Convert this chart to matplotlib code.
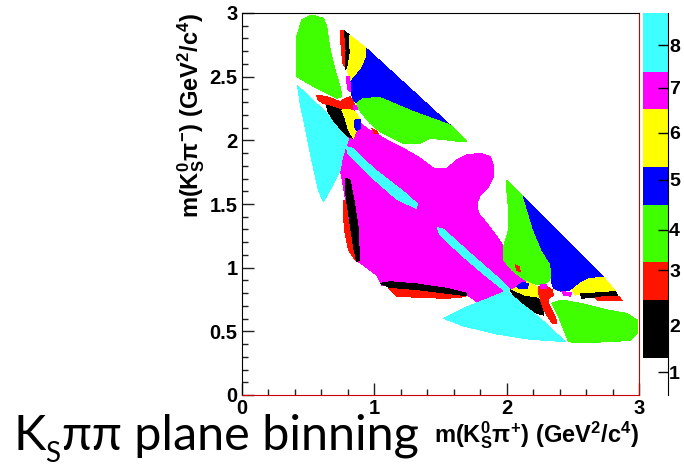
import matplotlib
matplotlib.use("Agg")
import matplotlib.pyplot as plt
from matplotlib.patches import Polygon
from matplotlib.ticker import MultipleLocator, FuncFormatter

# ---------- data: Dalitz-plane bins (bin number, outline in GeV^2/c^4) ----------

BIN_COLORS = {1: "#ffffff", 2: "#000000", 3: "#ff1400", 4: "#40ff00",
              5: "#0000ff", 6: "#ffff00", 7: "#ff00ff", 8: "#40ffff"}

magenta_main = [(0.781, 1.950), (0.819, 2.055), (0.856, 2.147), (0.894, 2.134),
                (0.945, 2.094), (1.096, 2.003), (1.222, 1.937), (1.348, 1.859),
                (1.448, 1.780), (1.549, 1.780), (1.625, 1.846), (1.700, 1.885),
                (1.801, 1.898), (1.877, 1.872), (1.902, 1.793), (1.902, 1.715),
                (1.864, 1.636), (1.801, 1.571), (1.776, 1.505), (1.788, 1.427),
                (1.851, 1.348), (1.927, 1.243), (2.003, 1.126), (2.078, 1.034),
                (2.154, 0.942), (2.166, 0.903), (2.078, 0.856), (2.003, 0.819),
                (1.952, 0.777), (1.776, 0.733), (1.705, 0.785), (1.423, 0.819),
                (1.058, 0.864), (1.020, 0.942), (0.882, 1.047), (0.844, 1.165),
                (0.806, 1.401), (0.768, 1.636), (0.748, 1.754)]
cyan_stripe_up = [(0.793, 1.950), (0.839, 1.937), (0.995, 1.780), (1.222, 1.597),
                  (1.327, 1.500), (1.317, 1.466), (1.171, 1.537), (0.970, 1.720),
                  (0.798, 1.903)]
cyan_stripe_low = [(1.479, 1.314), (1.524, 1.301), (1.725, 1.113), (1.927, 0.929),
                   (2.028, 0.830), (1.997, 0.809), (1.851, 0.929), (1.650, 1.107),
                   (1.494, 1.264)]
cyan_low = [(1.524, 0.602), (1.675, 0.681), (1.877, 0.764), (2.003, 0.819),
            (2.103, 0.733), (2.280, 0.576), (2.443, 0.419), (2.179, 0.437),
            (1.927, 0.479), (1.675, 0.542)]
cyan_left = [(0.423, 2.427), (0.617, 2.238), (0.781, 2.055), (0.806, 2.008),
             (0.781, 1.937), (0.756, 1.846), (0.743, 1.762), (0.680, 1.636),
             (0.617, 1.518), (0.579, 1.610), (0.529, 1.846), (0.479, 2.107),
             (0.441, 2.291)]
green_leaf = [(0.416, 2.500), (0.416, 2.814), (0.453, 2.945), (0.529, 2.984),
              (0.617, 2.958), (0.642, 2.893), (0.668, 2.709), (0.705, 2.552),
              (0.743, 2.421), (0.756, 2.343), (0.718, 2.330), (0.567, 2.408)]
red_top = [(0.743, 2.866), (0.776, 2.859), (0.788, 2.709), (0.781, 2.579),
           (0.763, 2.605), (0.751, 2.736)]
black_top = [(0.776, 2.859), (0.814, 2.827), (0.824, 2.736), (0.806, 2.579),
             (0.781, 2.558), (0.788, 2.709)]
yellow_top = [(0.814, 2.827), (0.940, 2.723), (0.945, 2.657), (0.907, 2.565),
              (0.844, 2.487), (0.814, 2.474), (0.798, 2.552), (0.819, 2.683)]
blue_top = [(0.940, 2.723), (1.574, 2.120), (1.423, 2.181), (1.222, 2.259),
            (1.096, 2.317), (0.995, 2.338), (0.919, 2.330), (0.869, 2.291),
            (0.839, 2.317), (0.824, 2.395), (0.824, 2.461), (0.844, 2.487),
            (0.907, 2.565), (0.945, 2.657)]
green_top = [(0.869, 2.291), (0.919, 2.330), (1.045, 2.335), (1.297, 2.225),
             (1.574, 2.120), (1.700, 1.990), (1.650, 1.990), (1.549, 2.003),
             (1.423, 2.016), (1.348, 1.976), (1.222, 1.976), (1.121, 2.029),
             (1.045, 2.068), (0.970, 2.134), (0.907, 2.212), (0.882, 2.251)]
magenta_top = [(0.788, 2.500), (0.809, 2.505), (0.824, 2.421), (0.819, 2.382),
               (0.801, 2.401)]
red_cross_top = [(0.567, 2.356), (0.642, 2.343), (0.743, 2.304), (0.781, 2.330),
                 (0.819, 2.343), (0.849, 2.291), (0.849, 2.238), (0.806, 2.225),
                 (0.768, 2.238), (0.693, 2.264), (0.617, 2.291), (0.572, 2.322)]
magenta_dot_top = [(0.844, 2.277), (0.869, 2.270), (0.874, 2.243), (0.849, 2.238)]
black_mid = [(0.642, 2.277), (0.718, 2.251), (0.756, 2.238), (0.793, 2.160),
             (0.831, 2.055), (0.844, 2.016), (0.806, 2.029), (0.743, 2.094),
             (0.680, 2.173), (0.647, 2.238)]
yellow_mid = [(0.756, 2.238), (0.806, 2.243), (0.856, 2.225), (0.894, 2.160),
              (0.882, 2.107), (0.856, 2.055), (0.844, 2.016), (0.806, 2.081),
              (0.781, 2.173)]
blue_dot = [(0.856, 2.160), (0.894, 2.160), (0.899, 2.094), (0.869, 2.076),
            (0.851, 2.107)]
red_dot_top = [(0.982, 2.094), (1.015, 2.076), (1.033, 2.050), (1.000, 2.055)]
red_left = [(0.768, 1.531), (0.788, 1.518), (0.806, 1.348), (0.844, 1.165),
            (0.882, 1.047), (0.856, 1.060), (0.806, 1.139), (0.781, 1.270),
            (0.768, 1.401)]
black_left = [(0.781, 1.702), (0.819, 1.688), (0.856, 1.479), (0.882, 1.296),
              (0.889, 1.060), (0.869, 1.047), (0.844, 1.165), (0.814, 1.374),
              (0.788, 1.558)]
black_bottom = [(1.045, 0.877), (1.121, 0.890), (1.322, 0.872), (1.549, 0.838),
                (1.700, 0.798), (1.688, 0.772), (1.524, 0.798), (1.322, 0.825),
                (1.121, 0.843)]
red_bottom = [(1.108, 0.838), (1.322, 0.819), (1.524, 0.793), (1.688, 0.772),
              (1.549, 0.759), (1.322, 0.767), (1.171, 0.777)]
green_right = [(2.003, 1.688), (2.128, 1.558), (2.204, 1.296), (2.267, 1.139),
               (2.330, 1.034), (2.343, 0.955), (2.317, 0.890), (2.267, 0.864),
               (2.179, 0.877), (2.103, 0.929), (2.040, 0.982), (1.977, 1.060),
               (1.977, 1.165), (2.015, 1.296), (2.015, 1.453), (1.997, 1.662)]
blue_right = [(2.128, 1.558), (2.733, 0.929), (2.607, 0.916), (2.531, 0.864),
              (2.481, 0.825), (2.418, 0.812), (2.355, 0.838), (2.343, 0.877),
              (2.343, 0.955), (2.330, 1.034), (2.267, 1.139), (2.204, 1.296)]
yellow_right = [(2.494, 0.825), (2.557, 0.877), (2.632, 0.916), (2.733, 0.924),
                (2.783, 0.864), (2.829, 0.804), (2.708, 0.812), (2.569, 0.793),
                (2.519, 0.785)]
black_right = [(2.557, 0.793), (2.821, 0.812), (2.839, 0.785), (2.632, 0.767),
               (2.569, 0.759)]
red_right = [(2.670, 0.767), (2.846, 0.777), (2.872, 0.741), (2.683, 0.746)]
magenta_right = [(2.418, 0.812), (2.494, 0.804), (2.481, 0.777), (2.431, 0.785)]
green_low = [(2.343, 0.720), (2.418, 0.746), (2.557, 0.720), (2.758, 0.668),
             (2.909, 0.641), (2.985, 0.589), (2.985, 0.484), (2.935, 0.432),
             (2.809, 0.419), (2.531, 0.411), (2.469, 0.419), (2.443, 0.484),
             (2.393, 0.615)]
blue_dot_low = [(2.078, 0.851), (2.116, 0.882), (2.166, 0.877), (2.154, 0.838),
                (2.091, 0.838)]
yellow_low = [(2.040, 0.825), (2.154, 0.890), (2.204, 0.864), (2.242, 0.838),
              (2.254, 0.772), (2.204, 0.759), (2.128, 0.785), (2.053, 0.812)]
black_low = [(2.028, 0.825), (2.128, 0.777), (2.242, 0.759), (2.280, 0.668),
             (2.280, 0.628), (2.229, 0.641), (2.141, 0.707), (2.053, 0.785)]
red_cross_low = [(2.242, 0.851), (2.305, 0.851), (2.343, 0.825), (2.355, 0.785),
                 (2.317, 0.759), (2.317, 0.720), (2.368, 0.615), (2.380, 0.563),
                 (2.350, 0.558), (2.280, 0.668), (2.254, 0.759), (2.242, 0.798)]
magenta_dot_low = [(2.254, 0.864), (2.300, 0.864), (2.300, 0.838), (2.254, 0.835)]
red_dot_low = [(2.065, 1.021), (2.098, 1.008), (2.103, 0.969), (2.078, 0.982)]

# draw order matters: big areas first, small pieces on top
REGIONS = [
    (7, magenta_main), (8, cyan_stripe_up), (8, cyan_stripe_low), (8, cyan_low),
    (8, cyan_left), (4, green_leaf), (3, red_top), (2, black_top),
    (6, yellow_top), (5, blue_top), (4, green_top), (7, magenta_top),
    (3, red_cross_top), (7, magenta_dot_top), (2, black_mid), (6, yellow_mid),
    (5, blue_dot), (3, red_dot_top), (3, red_left), (2, black_left),
    (2, black_bottom), (3, red_bottom), (4, green_right), (5, blue_right),
    (6, yellow_right), (2, black_right), (3, red_right), (7, magenta_right),
    (4, green_low), (6, yellow_low), (5, blue_dot_low), (2, black_low),
    (3, red_cross_low), (7, magenta_dot_low), (3, red_dot_low),
]

# palette axis: band edges and tick positions as fraction of the bar height
CB_BINS = [1, 2, 3, 4, 5, 6, 7, 8]
CB_EDGES = [0.0, 0.097, 0.249, 0.348, 0.497, 0.597, 0.749, 0.846, 1.0]
CB_TICKS = [0.060, 0.183, 0.327, 0.432, 0.563, 0.686, 0.804, 0.916]

# ---------- figure ----------

plt.rcParams["mathtext.fontset"] = "custom"
plt.rcParams["mathtext.rm"] = "Liberation Sans:bold"
plt.rcParams["mathtext.bf"] = "Liberation Sans:bold"
plt.rcParams["mathtext.it"] = "Liberation Sans:bold:italic"

W, H = 684, 467
fig = plt.figure(figsize=(W / 100, H / 100), dpi=100)
ax = fig.add_axes([241.7 / W, 72 / H, 397.3 / W, 382 / H])

for b, verts in REGIONS:
    ax.add_patch(Polygon(verts, closed=True, facecolor=BIN_COLORS[b],
                         edgecolor="none", antialiased=False))

ax.set_xlim(0, 3)
ax.set_ylim(0, 3)
ax.xaxis.set_major_locator(MultipleLocator(1))
ax.xaxis.set_minor_locator(MultipleLocator(0.2))
ax.yaxis.set_major_locator(MultipleLocator(0.5))
ax.yaxis.set_minor_locator(MultipleLocator(0.1))
fmt = FuncFormatter(lambda v, _: f"{v:g}")
ax.xaxis.set_major_formatter(fmt)
ax.yaxis.set_major_formatter(fmt)
ax.tick_params(which="both", direction="in", width=1, colors="#222222",
               labelcolor="black", labelsize=14.5)
ax.tick_params(which="major", length=8.5)
ax.tick_params(which="minor", length=4.5)
ax.tick_params(axis="x", pad=3)
ax.tick_params(axis="y", pad=3)
for lab in ax.get_xticklabels() + ax.get_yticklabels():
    lab.set_fontfamily("Liberation Sans")
    lab.set_fontweight("bold")
ax.spines["top"].set_color("black")
ax.spines["left"].set_color("black")
ax.spines["right"].set_color("#cc0000")
ax.spines["bottom"].set_color("#cc0000")

ax.set_ylabel(r"$\mathbf{m(K^0_S\pi^{-})\ (GeV^2/c^4)}$", loc="top",
              fontsize=17, labelpad=2)
ax.set_xlabel(r"$\mathbf{m(K^0_S\pi^{+})\ (GeV^2/c^4)}$", loc="right",
              fontsize=17, labelpad=1)

# palette
cax = fig.add_axes([642.7 / W, 72 / H, 25 / W, 382 / H])
for b, lo, hi in zip(CB_BINS, CB_EDGES[:-1], CB_EDGES[1:]):
    cax.axhspan(lo, hi, color=BIN_COLORS[b], lw=0)
cax.set_xlim(0, 1)
cax.set_ylim(0, 1)
for s in ["left", "top", "bottom"]:
    cax.spines[s].set_visible(False)
cax.spines["right"].set_color("black")
cax.set_xticks([])
cax.yaxis.tick_right()
cax.set_yticks(CB_TICKS)
cax.set_yticklabels([str(b) for b in CB_BINS])
cax.tick_params(axis="y", direction="in", length=7, width=1, pad=1,
                labelsize=14)
for lab in cax.get_yticklabels():
    lab.set_fontfamily("Liberation Sans")
    lab.set_fontweight("bold")

# slide caption: K, subscript S, rest of the line
fig.canvas.draw()
rend = fig.canvas.get_renderer()
base = (H - 450) / H
t1 = fig.text(13 / W, base, "K", fontsize=35, family="Lato", va="baseline")
bb = t1.get_window_extent(rend)
t2 = fig.text(bb.x1 / W, (H - 462) / H, "S", fontsize=20, family="Lato",
              va="baseline")
bb = t2.get_window_extent(rend)
fig.text(bb.x1 / W + 0.002, base, "ππ plane binning", fontsize=35,
         family="Lato", va="baseline")

fig.savefig("out.png", dpi=100)
